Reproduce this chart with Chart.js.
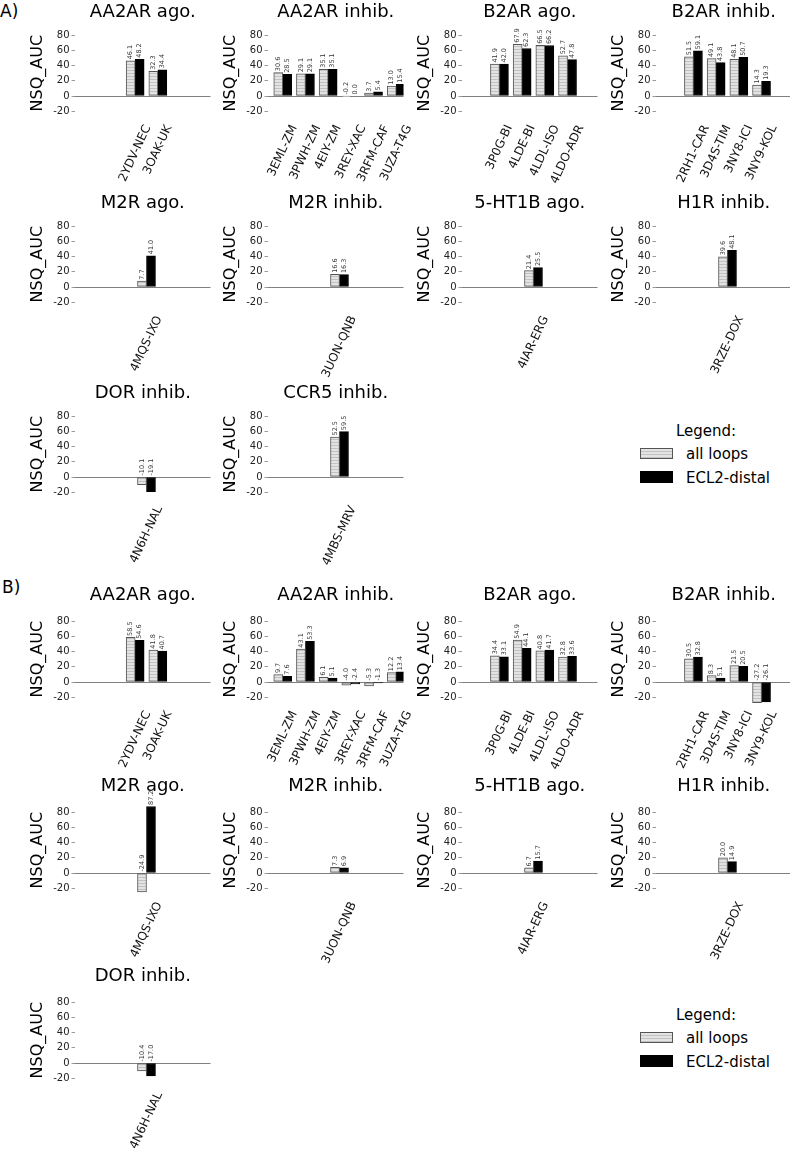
<!DOCTYPE html>
<html>
<head>
<meta charset="utf-8">
<script src="https://cdn.jsdelivr.net/npm/chart.js@4.4.0/dist/chart.umd.min.js"></script>
<style>
  html, body { margin: 0; padding: 0; background: #fff; }
  body { width: 790px; height: 1149px; position: relative; overflow: hidden; font-family: 'DejaVu Sans', sans-serif; }
  canvas.sub { position: absolute; }
  .txt { position: absolute; white-space: nowrap; color: #000; line-height: 1; transform: translateY(-50%); }
  .patch { position: absolute; box-sizing: border-box; }
  .hatch { background: repeating-linear-gradient(to bottom, #e3e3e3 0px, #e3e3e3 2px, #c2c2c2 2px, #c2c2c2 3px); border: 1px solid #555; }
  .solid { background: #000; border: 1px solid #000; }
</style>
</head>
<body>
<div class="txt" style="left:0px; top:11px; font-size:17px;">A)</div>
<div class="txt" style="left:2px; top:587px; font-size:17px;">B)</div>

<!-- legend A -->
<div class="txt" style="left:676px; top:431px; font-size:15px;">Legend:</div>
<div class="patch hatch" style="left:640px; top:448px; width:33px; height:11px;"></div>
<div class="txt" style="left:686px; top:454px; font-size:15px;">all loops</div>
<div class="patch solid" style="left:640px; top:471px; width:33px; height:12px;"></div>
<div class="txt" style="left:686px; top:478px; font-size:15px;">ECL2-distal</div>

<!-- legend B -->
<div class="txt" style="left:676px; top:1015px; font-size:15px;">Legend:</div>
<div class="patch hatch" style="left:640px; top:1032px; width:33px; height:11px;"></div>
<div class="txt" style="left:686px; top:1038px; font-size:15px;">all loops</div>
<div class="patch solid" style="left:640px; top:1055px; width:33px; height:12px;"></div>
<div class="txt" style="left:686px; top:1062px; font-size:15px;">ECL2-distal</div>

<script>
// Datos
const subplotTitles = ['AA2AR ago.', 'AA2AR inhib.', 'B2AR ago.', 'B2AR inhib.',
    'M2R ago.', 'M2R inhib.', '5-HT1B ago.', 'H1R inhib.', 'DOR inhib.', 'CCR5 inhib.'];

const complexes = [
    ['2YDV-NEC', '3OAK-UK'],
    ['3EML-ZM', '3PWH-ZM', '4EIY-ZM', '3REY-XAC', '3RFM-CAF', '3UZA-T4G'],
    ['3P0G-BI', '4LDE-BI', '4LDL-ISO', '4LDO-ADR'],
    ['2RH1-CAR', '3D4S-TIM', '3NY8-ICI', '3NY9-KOL'],
    ['4MQS-IXO'], ['3UON-QNB'], ['4IAR-ERG'], ['3RZE-DOX'], ['4N6H-NAL'], ['4MBS-MRV']
];

const allLoopsA = [[46.1, 32.3], [30.6, 29.1, 35.1, -0.2, 3.7, 13.0], [41.9, 67.9, 66.5, 52.7],
    [51.5, 49.1, 48.1, 14.3], [7.7], [16.6], [21.4], [39.6], [-10.1], [52.5]];
const ecl2DistalA = [[48.2, 34.4], [28.5, 29.1, 35.1, 0.0, 5.4, 15.4], [42.0, 62.3, 66.2, 47.8],
    [59.1, 43.8, 50.7, 19.3], [41.0], [16.3], [25.5], [48.1], [-19.1], [59.5]];

const allLoopsB = [[58.5, 41.8], [9.7, 43.1, 6.1, -4.0, -5.3, 12.2], [34.4, 54.9, 40.8, 32.8],
    [30.5, 8.3, 21.5, -27.2], [-24.9], [7.3], [6.7], [20.0], [-10.4]];
const ecl2DistalB = [[54.6, 40.7], [7.6, 53.3, 5.1, -2.4, -1.3, 13.4], [33.1, 44.1, 41.7, 33.6],
    [32.8, 5.1, 20.5, -26.1], [87.2], [6.9], [15.7], [14.9], [-17.0]];

const yTicks = [-20, 0, 20, 40, 60, 80];
const seriesNames = ['all loops', 'ECL2-distal'];

// Geometría
const Y_MIN = -30, Y_MAX = 90;
const X_MIN = -3.15, X_MAX = 2.82;          // en unidades de categoría, centrado en 0
const AXIS_LEFTS = [74.5, 267.5, 461.5, 655.5];
const ROW_ZEROS = [96, 287, 477];
const PANEL_B_OFFSET = 586;
const CANVAS_W = 240, CANVAS_H = 205, ZERO_IN_CANVAS = 100;
const PLOT_W = 135.5, PLOT_TOP = 31.375, PLOT_BOTTOM = 122.875;
const LABEL_ROT = 65;
const TITLE_SIZE = 18;

// Textos del eje X (rotados, centrados en la categoría)
const xLabelPlugin = {
    id: 'xLabels',
    afterDraw(chart, args, opts) {
        const { ctx, chartArea } = chart;
        const xs = chart.scales.x;
        const th = LABEL_ROT * Math.PI / 180;
        ctx.save();
        ctx.font = '12px "DejaVu Sans"';
        ctx.fillStyle = '#111';
        ctx.textAlign = 'center';
        ctx.textBaseline = 'middle';
        opts.labels.forEach((lab, i) => {
            const L = ctx.measureText(lab).width;
            const boxH = L * Math.sin(th) + 14 * Math.cos(th);
            const cx = xs.getPixelForValue(opts.positions[i]);
            const cy = chartArea.bottom + 4 + boxH / 2;
            ctx.save();
            ctx.translate(cx, cy);
            ctx.rotate(-th);
            ctx.fillText(lab, 0, 0);
            ctx.restore();
        });
        ctx.restore();
    }
};

// Valores encima de cada barra
const valueLabelPlugin = {
    id: 'valueLabels',
    afterDatasetsDraw(chart) {
        const { ctx } = chart;
        const zero = chart.scales.y.getPixelForValue(0);
        ctx.save();
        ctx.font = '6.5px "DejaVu Sans"';
        ctx.fillStyle = '#333';
        ctx.textAlign = 'left';
        ctx.textBaseline = 'middle';
        chart.data.datasets.forEach((ds, di) => {
            const meta = chart.getDatasetMeta(di);
            meta.data.forEach((bar, i) => {
                const v = ds.data[i].y;
                const y0 = Math.min(bar.y, zero) - 1.5;
                ctx.save();
                ctx.translate(bar.x, y0);
                ctx.rotate(-Math.PI / 2);
                ctx.fillText(v.toFixed(1), 0, 0);
                ctx.restore();
            });
        });
        ctx.restore();
    }
};

const hatchTile = document.createElement('canvas');
hatchTile.width = 4; hatchTile.height = 3;
(() => {
    const g = hatchTile.getContext('2d');
    g.fillStyle = '#e3e3e3'; g.fillRect(0, 0, 4, 3);
    g.fillStyle = '#c2c2c2'; g.fillRect(0, 2, 4, 1);
})();

function makeSubplot(k, title, labels, valsA, valsB, zeroY, titleMid) {
    const col = k % 4;
    const axLeft = AXIS_LEFTS[col];
    const canvas = document.createElement('canvas');
    canvas.className = 'sub';
    canvas.width = CANVAS_W;
    canvas.height = CANVAS_H;
    canvas.style.left = (axLeft - 75) + 'px';
    canvas.style.top = (zeroY - ZERO_IN_CANVAS) + 'px';
    document.body.appendChild(canvas);

    const n = labels.length;
    const positions = labels.map((_, i) => i - (n - 1) / 2);
    const lineH = TITLE_SIZE * 1.2;
    const titlePadTop = titleMid - lineH / 2;

    new Chart(canvas, {
        type: 'bar',
        data: {
            datasets: [{
                label: seriesNames[0],
                data: valsA.map((v, i) => ({ x: positions[i], y: v })),
                backgroundColor: c => c.chart.ctx.createPattern(hatchTile, 'repeat'),
                borderColor: '#555',
                borderWidth: 1,
                borderSkipped: false,
                barThickness: 9
            }, {
                label: seriesNames[1],
                data: valsB.map((v, i) => ({ x: positions[i], y: v })),
                backgroundColor: '#000',
                borderColor: '#000',
                borderWidth: 1,
                borderSkipped: false,
                barThickness: 9
            }]
        },
        options: {
            responsive: false,
            animation: false,
            devicePixelRatio: 1,
            layout: {
                padding: { left: 0, top: 0, right: CANVAS_W - 75 - PLOT_W, bottom: CANVAS_H - PLOT_BOTTOM }
            },
            scales: {
                x: {
                    type: 'linear',
                    min: X_MIN,
                    max: X_MAX,
                    offset: false,
                    grid: { offset: false },
                    display: false
                },
                y: {
                    min: Y_MIN,
                    max: Y_MAX,
                    afterBuildTicks: s => { s.ticks = yTicks.map(v => ({ value: v })); },
                    afterFit: s => { s.width = 75; },
                    border: { display: false },
                    grid: {
                        color: c => (c.tick && c.tick.value === 0) ? '#808080' : 'rgba(0,0,0,0)',
                        tickColor: '#9a9a9a',
                        tickLength: 3.5,
                        lineWidth: 1
                    },
                    ticks: {
                        padding: 2,
                        color: '#222',
                        font: { family: 'DejaVu Sans', size: 10 }
                    },
                    title: {
                        display: true,
                        text: 'NSQ_AUC',
                        color: '#000',
                        font: { family: 'DejaVu Sans', size: 16 },
                        padding: { top: 28.4, bottom: 0 }
                    }
                }
            },
            plugins: {
                legend: { display: false },
                tooltip: { enabled: false },
                title: {
                    display: true,
                    text: title,
                    fullSize: false,
                    color: '#000',
                    font: { family: 'DejaVu Sans', size: TITLE_SIZE, weight: 'normal' },
                    padding: { top: titlePadTop, bottom: PLOT_TOP - lineH - titlePadTop }
                },
                xLabels: { labels: labels, positions: positions }
            }
        },
        plugins: [xLabelPlugin, valueLabelPlugin]
    });
}

// Panel A
allLoopsA.forEach((vals, k) => {
    const zeroY = ROW_ZEROS[Math.floor(k / 4)];
    makeSubplot(k, subplotTitles[k], complexes[k], vals, ecl2DistalA[k], zeroY, ZERO_IN_CANVAS - 83.5);
});

// Panel B
allLoopsB.forEach((vals, k) => {
    const zeroY = ROW_ZEROS[Math.floor(k / 4)] + PANEL_B_OFFSET;
    makeSubplot(k, subplotTitles[k], complexes[k], vals, ecl2DistalB[k], zeroY, ZERO_IN_CANVAS - 87);
});
</script>
</body>
</html>
